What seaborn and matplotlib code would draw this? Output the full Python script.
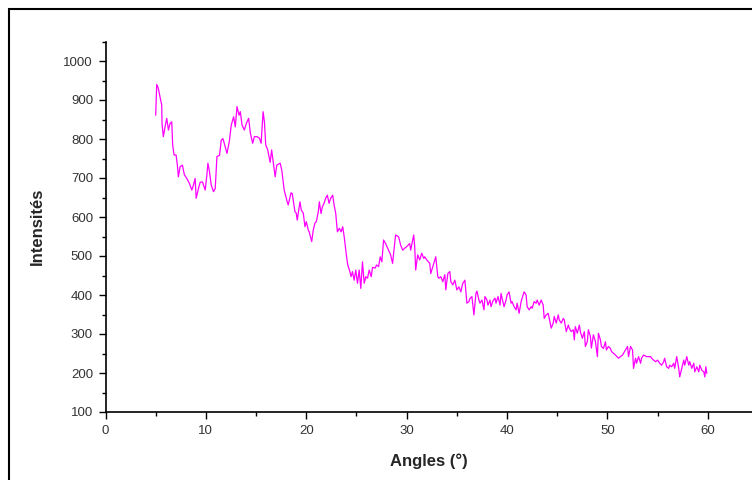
import seaborn as sns
import matplotlib.pyplot as plt
from matplotlib.patches import Rectangle
from matplotlib.ticker import MultipleLocator

# diffractogramme (angle 2θ, intensité)
angles = [
    5.0, 5.1, 5.25, 5.43, 5.6, 5.63, 5.76, 5.93, 6.1, 6.27, 6.43, 6.6, 6.69, 6.83,
    7.03, 7.16, 7.26, 7.43, 7.66, 7.86, 8.1, 8.36, 8.6, 8.76, 8.93, 9.03, 9.26, 9.43,
    9.66, 9.93, 10.1, 10.2, 10.36, 10.53, 10.76, 10.93, 11.1, 11.36, 11.53, 11.7, 11.83,
    12.1, 12.33, 12.53, 12.76, 12.93, 13.1, 13.3, 13.43, 13.6, 13.83, 14.03, 14.26,
    14.43, 14.66, 14.83, 15.1, 15.33, 15.5, 15.7, 15.83, 15.96, 16.16, 16.4, 16.55,
    16.9, 17.06, 17.4, 17.56, 17.8, 18.1, 18.2, 18.48, 18.6, 18.87, 19.0, 19.1, 19.37,
    19.5, 19.7, 19.87, 20.0, 20.2, 20.3, 20.54, 20.7, 20.87, 21.0, 21.2, 21.3, 21.47,
    21.6, 21.77, 21.93, 22.1, 22.27, 22.43, 22.63, 22.77, 22.93, 23.1, 23.3, 23.47,
    23.63, 23.8, 23.97, 24.13, 24.3, 24.47, 24.6, 24.77, 24.93, 25.1, 25.27, 25.43,
    25.6, 25.77, 25.93, 26.1, 26.27, 26.47, 26.6, 26.87, 27.0, 27.2, 27.37, 27.53,
    27.7, 27.9, 28.2, 28.4, 28.6, 28.7, 28.9, 29.2, 29.4, 29.6, 29.8, 30.0, 30.3, 30.4,
    30.6, 30.7, 30.8, 30.9, 31.1, 31.3, 31.5, 31.7, 31.8, 32.0, 32.3, 32.4, 32.6, 32.7,
    32.9, 33.1, 33.2, 33.4, 33.6, 33.8, 33.9, 34.1, 34.3, 34.4, 34.6, 34.8, 35.0, 35.2,
    35.4, 35.5, 35.6, 35.8, 36.0, 36.2, 36.3, 36.5, 36.7, 36.9, 37.0, 37.2, 37.3, 37.5,
    37.7, 37.8, 38.0, 38.1, 38.3, 38.4, 38.6, 38.8, 38.9, 39.1, 39.3, 39.4, 39.7, 39.9,
    40.0, 40.2, 40.4, 40.5, 40.7, 40.9, 41.0, 41.2, 41.4, 41.5, 41.7, 41.9, 42.0, 42.2,
    42.4, 42.5, 42.7, 42.9, 43.0, 43.2, 43.4, 43.6, 43.7, 43.9, 44.1, 44.2, 44.4, 44.6,
    44.7, 44.9, 45.1, 45.2, 45.4, 45.6, 45.7, 45.9, 46.1, 46.2, 46.4, 46.6, 46.7, 46.8,
    47.0, 47.2, 47.3, 47.5, 47.7, 47.8, 48.0, 48.1, 48.3, 48.4, 48.6, 48.8, 49.0, 49.1,
    49.3, 49.4, 49.6, 49.8, 49.9, 50.1, 50.3, 50.4, 50.8, 51.1, 51.5, 51.8, 52.0, 52.1,
    52.3, 52.5, 52.6, 52.8, 52.9, 53.1, 53.3, 53.4, 53.6, 53.9, 54.1, 54.3, 54.4, 54.6,
    54.8, 55.0, 55.2, 55.4, 55.6, 55.7, 55.9, 56.1, 56.2, 56.4, 56.6, 56.7, 56.9, 57.1,
    57.2, 57.4, 57.6, 57.7, 57.9, 58.1, 58.2, 58.4, 58.6, 58.7, 58.9, 59.1, 59.2, 59.4,
    59.6, 59.7, 59.8, 59.9,
]
intensites = [
    861, 940, 931, 908, 887, 840, 806, 831, 853, 823, 840, 844, 785, 759,
    759, 733, 703, 729, 733, 708, 699, 686, 669, 682, 699, 648, 673, 689,
    690, 669, 708, 738, 716, 682, 665, 673, 755, 758, 797, 801, 789,
    763, 793, 836, 857, 831, 883, 861, 870, 836, 823, 840, 853,
    815, 789, 806, 806, 802, 789, 870, 844, 785, 772, 740, 772,
    703, 733, 738, 720, 669, 639, 631, 662, 660, 614, 610, 592, 639,
    618, 610, 575, 588, 567, 561, 537, 567, 585, 588, 614, 639, 609,
    626, 635, 648, 656, 635, 648, 656, 631, 610, 562, 571, 562,
    575, 545, 507, 477, 464, 447, 460, 438, 464, 430, 464, 417,
    485, 430, 447, 443, 464, 447, 471, 469, 477, 473, 498, 485,
    541, 532, 515, 503, 481, 507, 554, 549, 528, 515, 520, 524, 532, 515,
    541, 554, 524, 464, 503, 490, 507, 494, 498, 490, 481, 455, 473, 481,
    498, 447, 443, 447, 434, 452, 413, 455, 460, 434, 426, 438, 413, 421,
    408, 421, 430, 438, 379, 383, 391, 396, 349, 404, 410, 387, 379, 387,
    362, 396, 387, 374, 387, 370, 385, 392, 379, 396, 374, 404, 370, 387,
    400, 408, 379, 383, 370, 362, 379, 353, 383, 392, 408, 400, 370, 362,
    370, 366, 383, 379, 387, 374, 387, 374, 340, 349, 353, 340, 315, 328,
    345, 328, 349, 336, 328, 340, 336, 306, 323, 315, 306, 311, 285, 319,
    302, 323, 306, 289, 306, 268, 281, 311, 294, 264, 298, 281, 242, 302,
    285, 268, 263, 280, 259, 268, 263, 255, 246, 238, 246, 259, 268, 242,
    268, 259, 212, 238, 225, 242, 225, 238, 246, 242, 242, 242, 238, 233,
    229, 233, 225, 220, 229, 238, 216, 212, 220, 216, 225, 212, 242, 212,
    190, 212, 233, 220, 242, 220, 229, 212, 225, 203, 216, 203, 220, 207,
    203, 190, 216, 199,
]

sns.set_style("ticks")
plt.rcParams['font.family'] = ['Liberation Sans', 'DejaVu Sans']

fig = plt.figure(figsize=(7.52, 4.8), dpi=100)
ax = fig.add_axes([105.5 / 752, 68 / 480, (752 - 105.5) / 752, (412 - 41.5) / 480])

sns.lineplot(x=angles, y=intensites, sort=False, estimator=None,
             color='#ff00ff', linewidth=0.9, ax=ax)

ax.set_xlim(0, 64.4)
ax.set_ylim(100, 1050)
ax.xaxis.set_major_locator(MultipleLocator(10))
ax.xaxis.set_minor_locator(MultipleLocator(5))
ax.yaxis.set_major_locator(MultipleLocator(100))
ax.yaxis.set_minor_locator(MultipleLocator(50))
ax.tick_params(which='major', length=5, width=1, color='black',
               labelsize=9.5, labelcolor='#333333', pad=4)
ax.tick_params(which='minor', length=3, width=1, color='black')

sns.despine(ax=ax)
for side in ['left', 'bottom']:
    ax.spines[side].set_linewidth(1.2)
    ax.spines[side].set_color('black')

ax.set_xlabel("Angles (°)", fontsize=12, fontweight='bold', labelpad=12)
ax.set_ylabel("Intensités", fontsize=12, fontweight='bold', labelpad=13)

# cadre autour de la figure
fig.add_artist(Rectangle((9 / 752, -0.05), 1.2, 1 - 9 / 480 + 0.05,
                         transform=fig.transFigure, fill=False,
                         edgecolor='black', linewidth=1.5))

fig.savefig("out.png", dpi=100)
